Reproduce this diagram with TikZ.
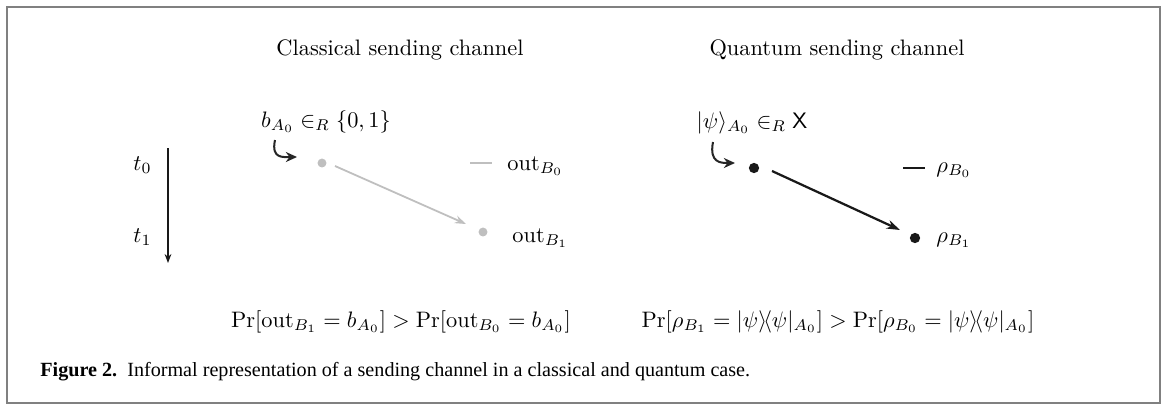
\documentclass[tikz,border=0pt]{standalone}
\usepackage{amsmath, amssymb}
\usepackage{fontspec}
\newfontfamily\capfont{Liberation Serif}
\usetikzlibrary{arrows.meta, positioning}

\begin{document}
\begin{tikzpicture}[x=0.447pt, y=-0.447pt,
	cdot/.style={circle, fill=gray!50, inner sep=0pt, minimum size=4pt},
	qdot/.style={circle, fill=black!90, inner sep=0pt, minimum size=4.6pt},
	hook/.style={-{Stealth[length=5pt, width=4.5pt]}, line width=0.9pt, black!85}]
	
	\useasboundingbox (0,0) rectangle (1165,406);
	\draw[gray, line width=0.8pt] (7,7) rectangle (1160,403);
	
	% Time axis
	\node[anchor=base east, inner sep=0pt] (t0) at (152,170) {$t_0$};
	\node[anchor=base east, inner sep=0pt] (t1) at (152,242) {$t_1$};
	\coordinate (ttop) at (168,148);
	\coordinate (tbot) at (168,263);
	\draw[-{Stealth[length=4pt, width=3pt]}, line width=0.8pt, black!90] (ttop) -- (tbot);
	
	% Classical side
	\node[anchor=base] (ctitle) at (400,55) {Classical sending channel};
	\node[anchor=base] (cin) at (326,127) {$b_{A_0} \in_R \{0,1\}$};
	\node[cdot] (c0) at (322,163) {};
	\node[cdot] (c1) at (483,232) {};
	\coordinate (chook) at (275,140);
	\coordinate (chookend) at (297,157);
	\draw[hook] (chook) .. controls (271,159) and (283,157) .. (chookend);
	\draw[-{Stealth[length=5pt, width=3.5pt]}, line width=0.8pt, gray!50] (c0) ++(13,3) coordinate (cstart) (cstart) -- (466,224) coordinate (cend);
	\coordinate (cd1) at (470,163);
	\coordinate (cd2) at (492,163);
	\draw[gray!50, line width=0.8pt] (cd1) -- (cd2);
	\node[anchor=base west, inner sep=0pt] (cout0) at (507,170) {$\mathrm{out}_{B_0}$};
	\node[anchor=base west, inner sep=0pt] (cout1) at (512,242) {$\mathrm{out}_{B_1}$};
	
	% Quantum side
	\node[anchor=base] (qtitle) at (837,55) {Quantum sending channel};
	\node[anchor=base] (qin) at (752,128) {$|\psi\rangle_{A_0} \in_R \mathsf{X}$};
	\node[qdot] (q0) at (754,168) {};
	\node[qdot] (q1) at (915,238) {};
	\coordinate (qhook) at (713,142);
	\coordinate (qhookend) at (735,163);
	\draw[hook] (qhook) .. controls (709,163) and (721,163) .. (qhookend);
	\draw[-{Stealth[length=6pt, width=4pt]}, line width=1pt, black!90] (q0) ++(18,3) coordinate (qstart) (qstart) -- (900,230) coordinate (qend);
	\coordinate (qd1) at (903,168);
	\coordinate (qd2) at (925,168);
	\draw[black!90, line width=1pt] (qd1) -- (qd2);
	\node[anchor=base west, inner sep=0pt] (qout0) at (936,172) {$\rho_{B_0}$};
	\node[anchor=base west, inner sep=0pt] (qout1) at (936,242) {$\rho_{B_1}$};
	
	% Probabilities
	\node[anchor=base] (cpr) at (401,327) {$\Pr[\mathrm{out}_{B_1} = b_{A_0}] > \Pr[\mathrm{out}_{B_0} = b_{A_0}]$};
	\node[anchor=base] (qpr) at (838,327) {$\Pr[\rho_{B_1} = |\psi\rangle\!\langle\psi|_{A_0}] > \Pr[\rho_{B_0} = |\psi\rangle\!\langle\psi|_{A_0}]$};
	
	% Caption
	\node[anchor=base west, inner sep=0pt, font=\capfont\fontsize{9}{11}\selectfont] (cap) at (40,376) {\textbf{Figure 2.}\enspace Informal representation of a sending channel in a classical and quantum case.};
	
\end{tikzpicture}
\end{document}
